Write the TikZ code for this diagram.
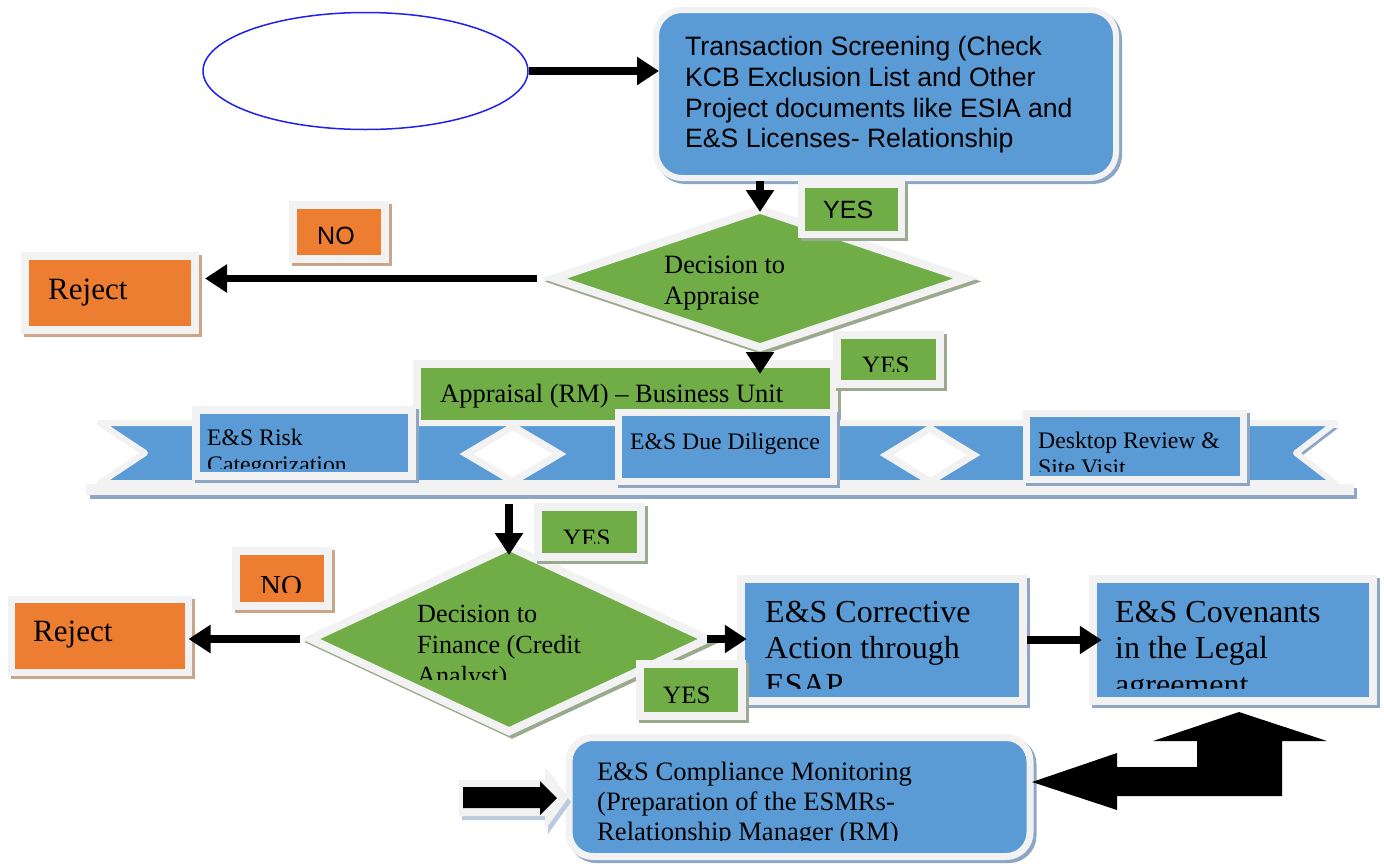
\documentclass[tikz,border=0pt]{standalone}
\usepackage{fontspec}
\setmainfont{Liberation Serif}
\newfontfamily\arialf{Liberation Sans}
\usetikzlibrary{shapes.geometric,arrows.meta,shadows}
\definecolor{bfill}{HTML}{5B9BD5}
\definecolor{gfill}{HTML}{70AD47}
\definecolor{ofill}{HTML}{ED7D31}
\definecolor{bgray}{HTML}{F2F2F2}
\definecolor{sblue}{HTML}{8EA6C6}
\definecolor{sgreen}{HTML}{9BAA8E}
\definecolor{sorange}{HTML}{C9A58A}
\definecolor{eblue}{HTML}{2020F0}
\newcommand\fs[2]{\fontsize{#1}{#2}\selectfont}
\begin{document}
\begin{tikzpicture}[x=1pt,y=-1pt,
 shad/.style={drop shadow={shadow xshift=3pt,shadow yshift=-3pt,fill=#1,draw=#1,opacity=1}},
 panel/.style={rectangle,inner sep=0pt,draw=bgray,line width=8pt},
 bluebox/.style={panel,fill=bfill,shad=sblue},
 greenbox/.style={panel,fill=gfill,shad=sgreen},
 orangebox/.style={panel,fill=ofill,shad=sorange},
 decision/.style={diamond,inner sep=0pt,fill=gfill,draw=bgray,line width=8pt,shad=sgreen},
 gap/.style={diamond,inner sep=0pt,fill=white,draw=bgray,line width=7pt},
 txt/.style={anchor=base west,inner sep=0pt,text=black},
 arr/.style={line width=7.5pt,-{Triangle[length=22pt,width=27pt]}},
]
\useasboundingbox (0,0) rectangle (1384,865);
\fill[white] (0,0) rectangle (1384,865);

% start ellipse
\node[ellipse,draw=eblue,line width=1.5pt,minimum width=325pt,minimum height=117pt,inner sep=0pt] (ell) at (365.5,71) {};

% transaction screening
\node[bluebox,rounded corners=26pt,line width=6pt,minimum width=460pt,minimum height=168pt] (screen) at (886,94) {};
\node[txt,font=\arialf\fs{26.6}{31}] (s1) at (685,55) {Transaction Screening (Check};
\node[txt,font=\arialf\fs{26.6}{31}] (s2) at (685,86) {KCB Exclusion List and Other};
\node[txt,font=\arialf\fs{26.6}{31}] (s3) at (685,117) {Project documents like ESIA and};
\node[txt,font=\arialf\fs{26.6}{31}] (s4) at (685,147.5) {E\&S Licenses- Relationship};

% decision to appraise
\node[decision,minimum width=415pt,minimum height=141pt] (dec1) at (760,278.5) {};
\node[txt,font=\fs{26.4}{31}] (d1a) at (664,273) {Decision to};
\node[txt,font=\fs{26.4}{31}] (d1b) at (664,304) {Appraise};

\node[greenbox,line width=7pt,minimum width=100pt,minimum height=50pt] (yes1) at (851,209) {};
\node[txt,font=\arialf\fs{25}{30}] (yes1t) at (823,218) {YES};

\node[orangebox,minimum width=92pt,minimum height=54pt] (no1) at (339,232) {};
\node[txt,font=\arialf\fs{25}{30}] (no1t) at (317,244) {NO};

\node[orangebox,minimum width=170pt,minimum height=74pt] (rej1) at (110,293) {};
\node[txt,font=\fs{31}{36}] (rej1t) at (48,299) {Reject};

% appraisal
\node[greenbox,minimum width=417pt,minimum height=66pt] (appr) at (625,397) {};
\node[txt,font=\fs{26.5}{31}] (apprt) at (440,402) {Appraisal (RM) -- Business Unit};

\node[greenbox,minimum width=103pt,minimum height=49pt] (yes2) at (888.5,359.5) {};
\begin{scope}
\clip (840,330) rectangle (940,371);
\node[txt,font=\fs{25}{30}] (yes2t) at (862,373) {YES};
\end{scope}

% ribbon band
\fill[sblue] (103,428) -- (1338,428) -- (1299,458) -- (1338,488) -- (103,488) -- (148,458) -- cycle;
\draw[fill=bfill,draw=bgray,line width=6pt,line join=round] (100,423) -- (1335,423) -- (1296,453) -- (1335,483) -- (100,483) -- (145,453) -- cycle;
\fill[sblue] (90,488) rectangle (1357,499);
\fill[bgray] (86,484) rectangle (1354,495);
\node[gap,minimum width=96pt,minimum height=58pt] (gap1) at (513,454) {};
\node[gap,minimum width=90pt,minimum height=56pt] (gap2) at (930,455) {};

\node[bluebox,minimum width=216pt,minimum height=65.5pt] (risk) at (304,443) {};
\begin{scope}
\clip (200,414) rectangle (408,468);
\node[txt,font=\fs{23.7}{27}] (riska) at (207,445) {E\&S Risk};
\node[txt,font=\fs{23.7}{27}] (riskb) at (207,472) {Categorization};
\end{scope}

\node[bluebox,line width=7pt,minimum width=215.5pt,minimum height=69pt] (due) at (726,447) {};
\node[txt,font=\fs{23.7}{27}] (duet) at (630,449) {E\&S Due Diligence};

\node[bluebox,line width=7pt,minimum width=216.5pt,minimum height=66pt] (desk) at (1135,446.5) {};
\begin{scope}
\clip (1030,417) rectangle (1238,471);
\node[txt,font=\fs{23.7}{27}] (deska) at (1038,448) {Desktop Review \&};
\node[txt,font=\fs{23.7}{27}] (deskb) at (1038,475) {Site Visit};
\end{scope}

% decision to finance
\node[decision,minimum width=400pt,minimum height=188pt] (dec2) at (509,639) {};
\begin{scope}
\clip (400,590) rectangle (640,679);
\node[txt,font=\fs{26.2}{31}] (d2a) at (417,622) {Decision to};
\node[txt,font=\fs{26.2}{31}] (d2b) at (417,653) {Finance (Credit};
\node[txt,font=\fs{26.2}{31}] (d2c) at (417,684) {Analyst)};
\end{scope}

\node[greenbox,minimum width=103pt,minimum height=49.5pt] (yes3) at (589.5,532) {};
\begin{scope}
\clip (542,512) rectangle (637,543);
\node[txt,font=\fs{25}{30}] (yes3t) at (563,546) {YES};
\end{scope}

\node[orangebox,minimum width=92.5pt,minimum height=55pt] (no2) at (282,578.5) {};
\begin{scope}
\clip (240,555) rectangle (324,592);
\node[txt,font=\fs{29}{34}] (no2t) at (260,595) {NO};
\end{scope}

\node[orangebox,line width=7pt,minimum width=177pt,minimum height=73pt] (rej2) at (99.5,635.5) {};
\node[txt,font=\fs{31}{36}] (rej2t) at (33,641) {Reject};

% corrective action and covenants
\node[bluebox,minimum width=282.5pt,minimum height=122pt] (corr) at (882,640) {};
\begin{scope}
\clip (745,583) rectangle (1020,688);
\node[txt,font=\fs{32}{36.5}] (c1) at (765,622) {E\&S Corrective};
\node[txt,font=\fs{32}{36.5}] (c2) at (765,658.5) {Action through};
\node[txt,font=\fs{32}{36.5}] (c3) at (765,695) {ESAP};
\end{scope}

\node[bluebox,minimum width=280.5pt,minimum height=122pt] (cov) at (1233,640) {};
\begin{scope}
\clip (1096,583) rectangle (1369,688);
\node[txt,font=\fs{32}{36.5}] (v1) at (1115,622) {E\&S Covenants};
\node[txt,font=\fs{32}{36.5}] (v2) at (1115,658.5) {in the Legal};
\node[txt,font=\fs{32}{36.5}] (v3) at (1115,695) {agreement};
\end{scope}

\node[greenbox,minimum width=102pt,minimum height=52pt] (yes4) at (691,690) {};
\node[txt,font=\fs{25}{30}] (yes4t) at (663,703) {YES};

% compliance monitoring
\node[bluebox,rounded corners=24pt,line width=7pt,minimum width=461pt,minimum height=119pt] (comp) at (799.5,797) {};
\begin{scope}
\clip (572,742) rectangle (1026,840);
\node[txt,font=\fs{26.6}{30}] (m1) at (597,780) {E\&S Compliance Monitoring};
\node[txt,font=\fs{26.6}{30}] (m2) at (597,810) {(Preparation of the ESMRs-};
\node[txt,font=\fs{26.6}{30}] (m3) at (597,840) {Relationship Manager (RM)};
\end{scope}

% block arrow into compliance
\fill[sblue!60] (462,784) -- (548,784) -- (548,771) -- (571,802) -- (548,834) -- (548,820) -- (462,820) -- cycle;
\fill[bgray] (459,780) -- (545,780) -- (545,767) -- (568,798) -- (545,830) -- (545,816) -- (459,816) -- cycle;
\fill[black] (463,787) -- (540,787) -- (540,781) -- (557,798) -- (540,815) -- (540,808) -- (463,808) -- cycle;

% big left-up arrow
\fill[black] (1032,782) -- (1117,753) -- (1117,767) -- (1197,767) -- (1197,741) -- (1153,741) -- (1239,712) -- (1327,741) -- (1282,741) -- (1282,796) -- (1117,796) -- (1117,810) -- cycle;

% connectors
\draw[arr,shorten >=-6pt] (ell.east) -- (ell.east -| screen.west);
\draw[arr,shorten >=-8pt] (dec1.north |- screen.south) -- (dec1.north);
\draw[arr,shorten >=6pt] ([xshift=-12pt]dec1.west) -- (dec1.west -| rej1.east);
\draw[arr] (dec1.south) -- ([yshift=-14pt]dec1.south |- appr.north);
\coordinate (bandout) at (509,504);
\draw[arr,shorten >=-14pt] (bandout) -- (dec2.north);
\draw[arr,shorten >=-3pt] ([xshift=-5pt]dec2.west) -- (dec2.west -| rej2.east);
\draw[arr,shorten >=-10pt] ([xshift=-6pt]dec2.east) -- (dec2.east -| corr.west);
\draw[arr,shorten >=-13pt] (corr.east) -- (corr.east -| cov.west);
\end{tikzpicture}
\end{document}
